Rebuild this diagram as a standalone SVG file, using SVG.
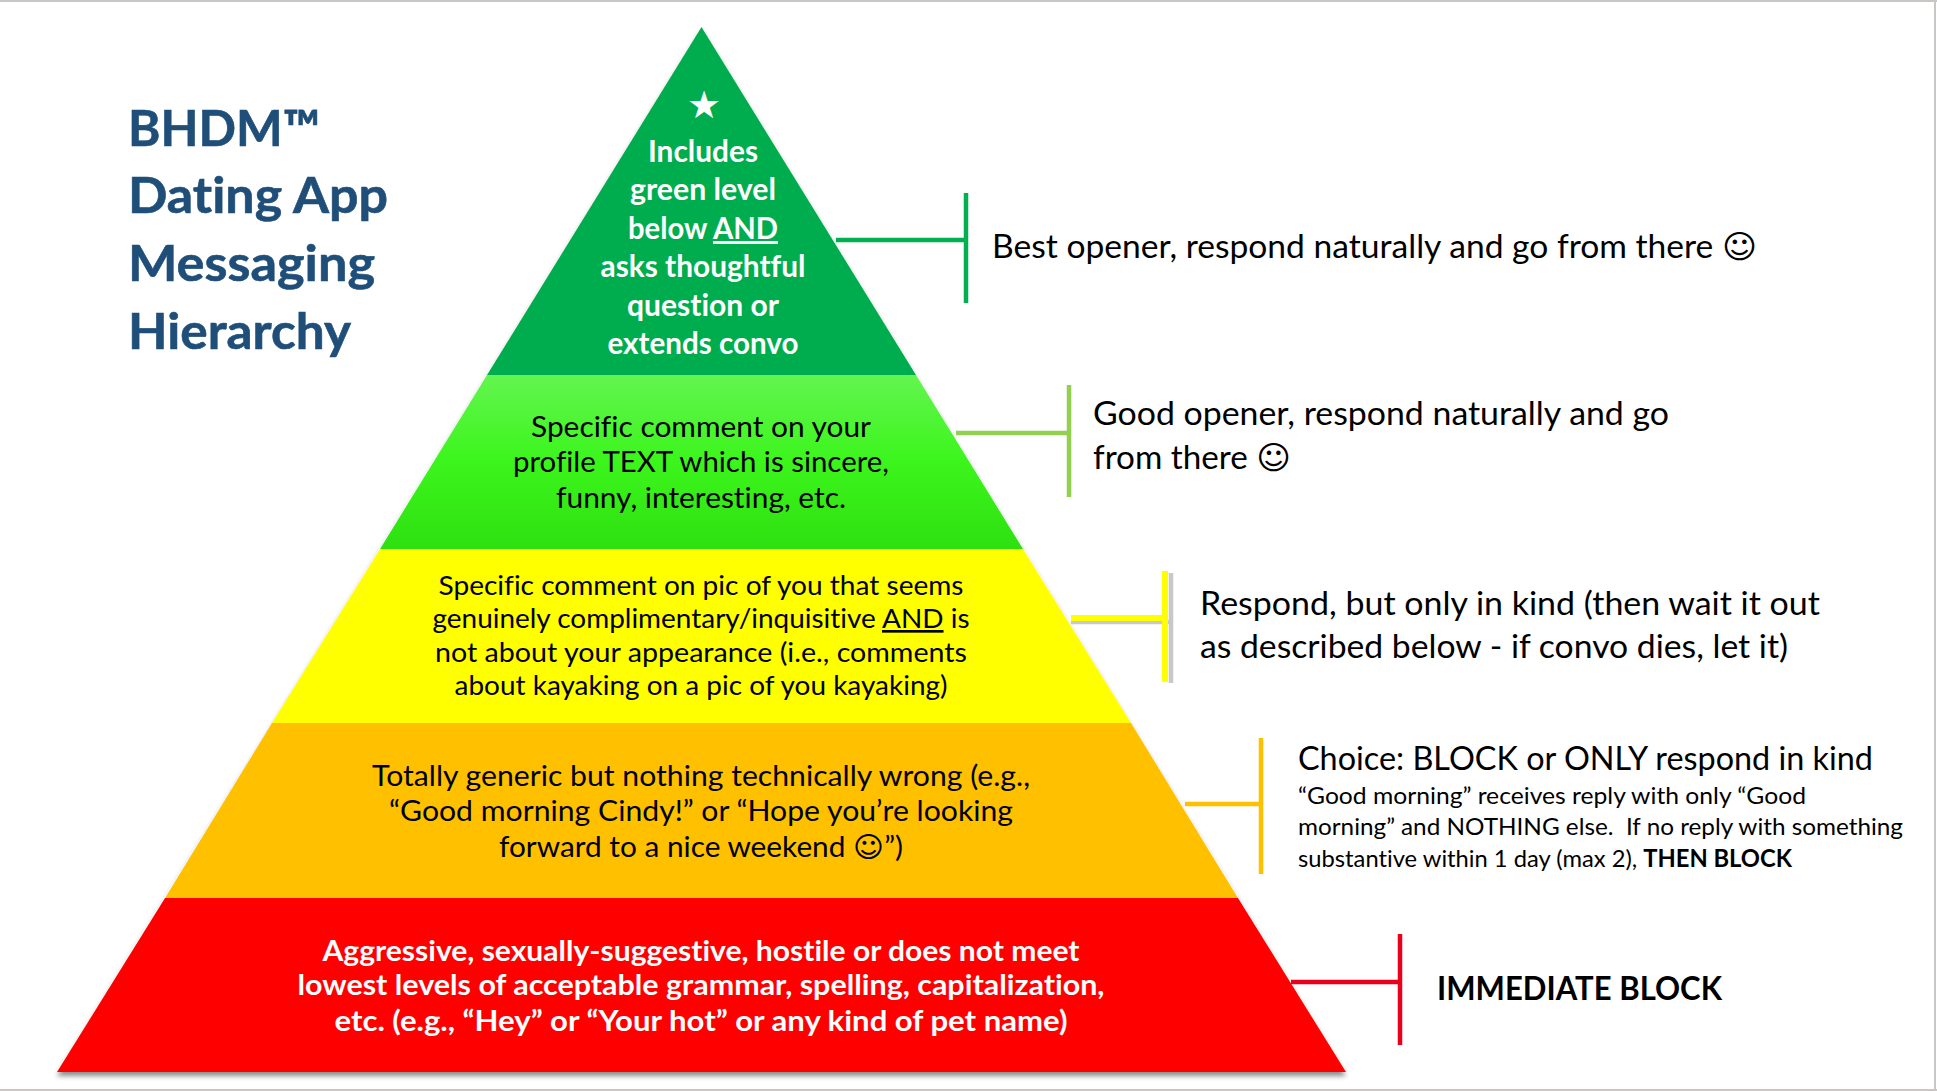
<svg xmlns="http://www.w3.org/2000/svg" width="1937" height="1091" viewBox="0 0 1937 1091">
<style>
text{font-family:"Lato","DejaVu Sans",sans-serif;fill:#000;font-variant-ligatures:none}
.t{font-weight:700;fill:#1f4e79;font-size:50px;stroke:#1f4e79;stroke-width:.6}
.c{text-anchor:middle}
.w{fill:#fff;font-weight:700}
.b{font-weight:700}
.r{font-size:32.5px}
.s{font-size:24px}
.l{fill:none;stroke-width:4.5}
</style>
<defs>
<linearGradient id="lg" x1="0" y1="0" x2="0" y2="1"><stop offset="0" stop-color="#63f550"/><stop offset="0.5" stop-color="#3cf51c"/><stop offset="1" stop-color="#2ee010"/></linearGradient>
<filter id="sh" x="-5%" y="-5%" width="110%" height="110%"><feDropShadow dx="0" dy="4" stdDeviation="2.5" flood-color="#000" flood-opacity="0.45"/></filter>
</defs>
<rect width="1937" height="1091" fill="#fff"/>
<path d="M0 1H1937M1935 0V1091M0 1090H1937" fill="none" stroke="#c9c6c4" stroke-width="2"/>
<g id="title">
<text class="t" x="128" y="146" textLength="192" lengthAdjust="spacingAndGlyphs">BHDM™</text>
<text class="t" x="128" y="213" textLength="260" lengthAdjust="spacingAndGlyphs">Dating App</text>
<text class="t" x="128" y="281" textLength="247" lengthAdjust="spacingAndGlyphs">Messaging</text>
<text class="t" x="128" y="349" textLength="223" lengthAdjust="spacingAndGlyphs">Hierarchy</text>
</g>
<g id="pyramid-shadow" filter="url(#sh)"><path d="M701.5 27L1346 1072H57Z" fill="#fff"/></g>
<g id="level-top">
<path d="M701.5 27L916 375H487Z" fill="#00ad4e"/>
<text class="c" x="704" y="118" font-size="38" style="fill:#fff;font-family:'DejaVu Sans',sans-serif">★</text>
<g font-size="29.5">
<text class="c w" x="703" y="162" textLength="110" lengthAdjust="spacingAndGlyphs">Includes</text>
<text class="c w" x="703" y="200" textLength="146" lengthAdjust="spacingAndGlyphs">green level</text>
<text class="c w" x="703" y="239" textLength="150" lengthAdjust="spacingAndGlyphs">below <tspan text-decoration="underline">AND</tspan></text>
<text class="c w" x="703" y="277" textLength="205" lengthAdjust="spacingAndGlyphs">asks thoughtful</text>
<text class="c w" x="703" y="316" textLength="152" lengthAdjust="spacingAndGlyphs">question or</text>
<text class="c w" x="703" y="354" textLength="191" lengthAdjust="spacingAndGlyphs">extends convo</text>
</g>
</g>
<g id="level-green">
<path d="M487 375H916L1023 549H380Z" fill="url(#lg)"/>
<g font-size="28.5">
<text class="c" x="701" y="437" textLength="340" lengthAdjust="spacingAndGlyphs">Specific comment on your</text>
<text class="c" x="701" y="472" textLength="376" lengthAdjust="spacingAndGlyphs">profile TEXT which is sincere,</text>
<text class="c" x="701" y="508" textLength="290" lengthAdjust="spacingAndGlyphs">funny, interesting, etc.</text>
</g>
</g>
<g id="level-yellow">
<path d="M380 549H1023L1131 723H272Z" fill="#ffff00"/>
<g font-size="26.5">
<text class="c" x="701" y="595" textLength="525" lengthAdjust="spacingAndGlyphs">Specific comment on pic of you that seems</text>
<text class="c" x="701" y="628" textLength="537" lengthAdjust="spacingAndGlyphs">genuinely complimentary/inquisitive <tspan text-decoration="underline">AND</tspan> is</text>
<text class="c" x="701" y="662" textLength="532" lengthAdjust="spacingAndGlyphs">not about your appearance (i.e., comments</text>
<text class="c" x="701" y="695" textLength="493" lengthAdjust="spacingAndGlyphs">about kayaking on a pic of you kayaking)</text>
</g>
</g>
<g id="level-orange">
<path d="M272 723H1131L1238 898H165Z" fill="#ffc000"/>
<g font-size="28.5">
<text class="c" x="701" y="786" textLength="658" lengthAdjust="spacingAndGlyphs">Totally generic but nothing technically wrong (e.g.,</text>
<text class="c" x="701" y="821" textLength="624" lengthAdjust="spacingAndGlyphs">“Good morning Cindy!” or “Hope you’re looking</text>
<text class="c" x="701" y="857" textLength="404" lengthAdjust="spacingAndGlyphs">forward to a nice weekend ☺”)</text>
</g>
</g>
<g id="level-red">
<path d="M165 898H1238L1346 1072H57Z" fill="#ff0000"/>
<g font-size="28.5">
<text class="c w" x="701" y="961" textLength="757" lengthAdjust="spacingAndGlyphs">Aggressive, sexually-suggestive, hostile or does not meet</text>
<text class="c w" x="701" y="995" textLength="807" lengthAdjust="spacingAndGlyphs">lowest levels of acceptable grammar, spelling, capitalization,</text>
<text class="c w" x="701" y="1031" textLength="733" lengthAdjust="spacingAndGlyphs">etc. (e.g., “Hey” or “Your hot” or any kind of pet name)</text>
</g>
</g>
<g id="connectors">
<path class="l" stroke="#00b050" d="M836 240H966M966 193V303"/>
<path class="l" stroke="#92d050" d="M956 433H1069M1069 385V497"/>
<path class="l" stroke="#c8c8c8" d="M1071 622H1171M1171 573V683"/>
<path class="l" stroke="#ffff00" style="stroke-width:6" d="M1071 618H1165M1165 571V682"/>
<path class="l" stroke="#ffc000" d="M1185 804H1261M1261 738V874"/>
<path class="l" stroke="#e8001c" d="M1291 982H1400M1400 934V1045"/>
</g>
<g id="note-top"><text class="r" x="992" y="257.500" textLength="765" lengthAdjust="spacingAndGlyphs">Best opener, respond naturally and go from there ☺</text></g>
<g id="note-green">
<text class="r" x="1093" y="425" textLength="576" lengthAdjust="spacingAndGlyphs">Good opener, respond naturally and go</text>
<text class="r" x="1093" y="469" textLength="198" lengthAdjust="spacingAndGlyphs">from there ☺</text>
</g>
<g id="note-yellow">
<text class="r" x="1200" y="615" textLength="620" lengthAdjust="spacingAndGlyphs">Respond, but only in kind (then wait it out</text>
<text class="r" x="1200" y="658" textLength="588" lengthAdjust="spacingAndGlyphs">as described below - if convo dies, let it)</text>
</g>
<g id="note-orange">
<text class="r" x="1298" y="770" textLength="575" lengthAdjust="spacingAndGlyphs">Choice: BLOCK or ONLY respond in kind</text>
<text class="s" x="1298" y="804" textLength="508" lengthAdjust="spacingAndGlyphs">“Good morning” receives reply with only “Good</text>
<text class="s" x="1298" y="835" textLength="605" lengthAdjust="spacingAndGlyphs" xml:space="preserve">morning” and NOTHING else.  If no reply with something</text>
<text class="s" x="1298" y="867" textLength="494" lengthAdjust="spacingAndGlyphs">substantive within 1 day (max 2), <tspan class="b">THEN BLOCK</tspan></text>
</g>
<g id="note-red"><text class="r b" x="1437" y="1000" textLength="285" lengthAdjust="spacingAndGlyphs">IMMEDIATE BLOCK</text></g>
</svg>
